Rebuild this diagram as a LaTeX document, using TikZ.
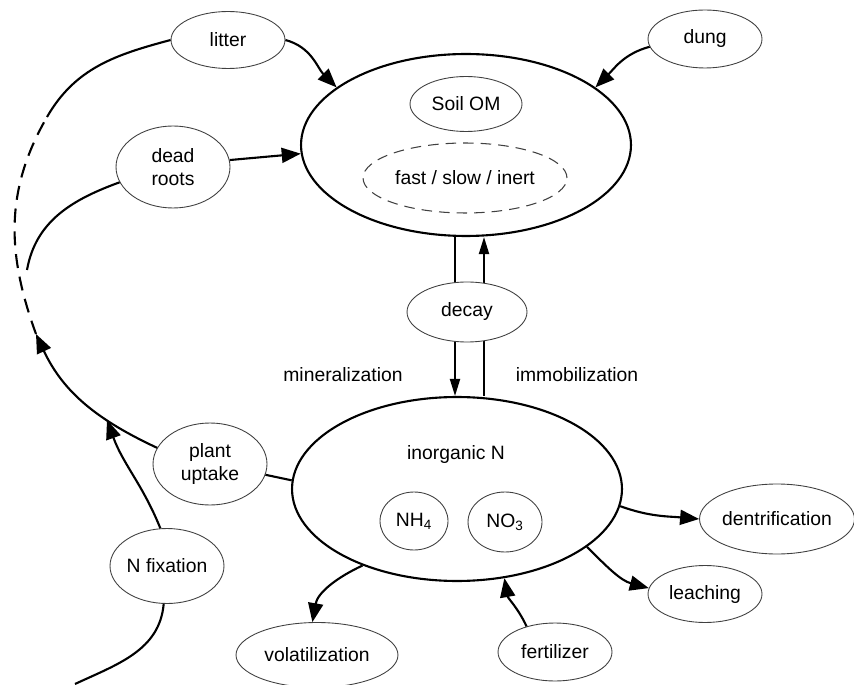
\documentclass[tikz,border=0pt]{standalone}
\usepackage{fontspec}
\setmainfont{Liberation Sans}
\usetikzlibrary{arrows.meta,shapes.geometric}

\begin{document}
\begin{tikzpicture}[x=0.02cm,y=0.02cm,
    txt/.style={font=\fontsize{11pt}{13pt}\selectfont},
    pool/.style={ellipse,draw,line width=1.2pt,inner sep=0pt},
    box/.style={ellipse,draw=black!75,line width=0.5pt,fill=white,inner sep=0pt,txt,align=center},
    flow/.style={line width=1.2pt,-{Triangle[length=0.38cm,width=0.3cm]}},
    vflow/.style={line width=1.1pt,-{Triangle[length=0.34cm,width=0.2cm]}},
    link/.style={line width=1.2pt}]
        \useasboundingbox (0,0) rectangle (854,-685);
        % organic side
        \node[pool,minimum width=6.6cm,minimum height=3.64cm] (soil) at (466,-145) {};
        \node[box,minimum width=2.24cm,minimum height=1.1cm] (som) at (466,-104) {Soil OM};
        \node[box,dashed,dash pattern=on 6pt off 4pt,line width=0.6pt,minimum width=4.08cm,minimum height=1.4cm] (pools) at (465,-178) {fast / slow / inert};
        % inorganic side
        \node[pool,minimum width=6.6cm,minimum height=3.68cm] (inorg) at (457,-489) {};
        \node[txt] (inorgtxt) at (456,-455) {inorganic N};
        \node[box,minimum width=1.36cm,minimum height=1.16cm] (nh) at (414,-521) {NH\textsubscript{4}};
        \node[box,minimum width=1.48cm,minimum height=1.2cm] (no) at (505,-522) {NO\textsubscript{3}};
        % decay lines
        \coordinate (mtop) at ([xshift=-0.22cm]soil.south);
        \coordinate (mbot) at (mtop |- inorg.north);
        \coordinate (itop) at ([xshift=0.36cm]soil.south);
        \coordinate (ibot) at (itop |- inorg.north);
        \draw[vflow] (mtop) -- (mbot);
        \draw[vflow] (ibot) -- (itop);
        \node[box,minimum width=2.4cm,minimum height=1.2cm] (decay) at (467,-312) {decay};
        \node[txt] (minlab) at (343,-375) {mineralization};
        \node[txt] (immlab) at (577,-375) {immobilization};
        % inputs and losses
        \node[box,minimum width=2.28cm,minimum height=1.14cm] (litter) at (228,-40) {litter};
        \node[box,minimum width=2.28cm,minimum height=1.16cm] (dung) at (705,-39) {dung};
        \node[box,minimum width=2.28cm,minimum height=1.64cm] (roots) at (173,-167) {dead\\roots};
        \node[box,minimum width=2.28cm,minimum height=1.64cm] (uptake) at (210,-464) {plant\\uptake};
        \node[box,minimum width=2.28cm,minimum height=1.5cm] (nfix) at (167,-566) {N fixation};
        \node[box,minimum width=3.24cm,minimum height=1.3cm] (volat) at (317,-655) {volatilization};
        \node[box,minimum width=2.28cm,minimum height=1.16cm] (fert) at (555,-652) {fertilizer};
        \node[box,minimum width=2.28cm,minimum height=1.14cm] (leach) at (705,-594) {leaching};
        \node[box,minimum width=3.1cm,minimum height=1.4cm] (dent) at (777,-519) {dentrification};
        % plant loop
        \coordinate (tip) at (36,-334);
        \coordinate (dash) at (47,-117);
        \coordinate (rootend) at (27,-270);
        \coordinate (fixjoin) at (107,-420);
        \coordinate (fixend) at (75,-684);
        \draw[flow] (uptake.163) to[out=155,in=-65] (tip);
        \draw[link,dashed,dash pattern=on 8pt off 5pt] (tip) to[out=110,in=-120] (dash);
        \draw[link] (litter.west) to[out=195,in=60] (dash);
        \draw[link] (roots.196) to[out=200,in=80] (rootend);
        \draw[flow] (nfix.100) to[out=112,in=-70] (fixjoin);
        \draw[link] (nfix.265) to[out=-95,in=25] (fixend);
        % connectors
        \draw[flow] (litter.east) to[out=-15,in=135] (soil.156);
        \draw[flow] (dung.188) to[out=195,in=45] (soil.24);
        \draw[flow] (roots.7) -- (soil.183);
        \draw[link] (uptake.-11) -- (inorg.177);
        \draw[flow] (inorg.354) to[out=-20,in=175] (dent.west);
        \draw[flow] (inorg.-24) to[out=-45,in=165] (leach.174);
        \draw[flow] (inorg.219) to[out=205,in=80] (volat.98);
        \draw[flow] (fert.138) to[out=115,in=-80] (inorg.-62);
\end{tikzpicture}
\end{document}
